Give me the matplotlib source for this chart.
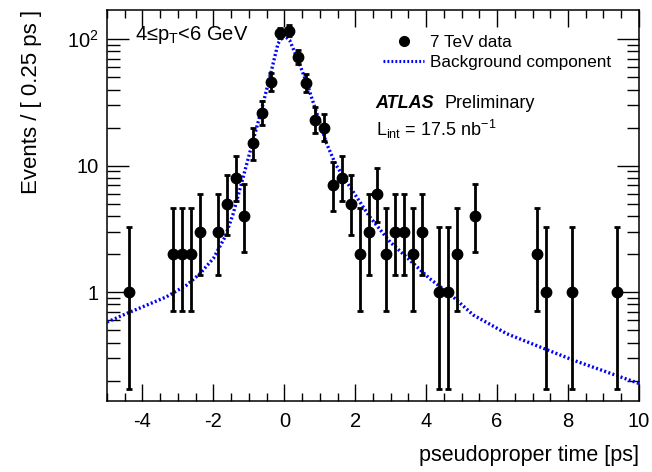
import numpy as np
import matplotlib
matplotlib.use("Agg")
import matplotlib.pyplot as plt
from matplotlib.ticker import MultipleLocator, LogLocator, NullFormatter, FixedFormatter, FixedLocator
from matplotlib.lines import Line2D

plt.rcParams['font.family'] = ['Liberation Sans', 'DejaVu Sans']
plt.rcParams['mathtext.fontset'] = 'custom'
plt.rcParams['mathtext.rm'] = 'Liberation Sans'
plt.rcParams['mathtext.it'] = 'Liberation Sans:italic'
plt.rcParams['mathtext.bf'] = 'Liberation Sans:bold'
plt.rcParams['axes.unicode_minus'] = False

# ---- data: 7 TeV events per 0.25 ps bin ----
t_bins = [-4.375, -3.125, -2.875, -2.625, -2.375, -1.875, -1.625, -1.375, -1.125,
          -0.875, -0.625, -0.375, -0.125, 0.125, 0.375, 0.625, 0.875, 1.125,
          1.375, 1.625, 1.875, 2.125, 2.375, 2.625, 2.875, 3.125, 3.375, 3.625,
          3.875, 4.375, 4.625, 4.875, 5.375, 7.125, 7.375, 8.125, 9.375]
counts = [1, 2, 2, 2, 3, 3, 5, 8, 4,
          15, 26, 46, 112, 117, 72, 45, 23, 20,
          7, 8, 5, 2, 3, 6, 2, 3, 3, 2,
          3, 1, 1, 2, 4, 2, 1, 1, 1]
# lower / upper edges of the error bars (Poisson intervals)
err_low_edge = [0.173, 0.708, 0.708, 0.708, 1.367, 1.367, 2.84, 5.23, 2.086,
                11.17, 20.94, 39.2, 101.4, 106.2, 63.5, 38.3, 18.24, 15.57,
                4.42, 5.23, 2.84, 0.708, 1.367, 3.62, 0.708, 1.367, 1.367, 0.708,
                1.367, 0.173, 0.173, 0.708, 2.086, 0.708, 0.173, 0.173, 0.173]
err_high_edge = [3.30, 4.64, 4.64, 4.64, 5.92, 5.92, 8.38, 11.95, 7.16,
                 19.95, 32.2, 53.8, 123.6, 128.8, 81.5, 52.75, 28.9, 25.5,
                 10.77, 11.95, 8.38, 4.64, 5.92, 9.58, 4.64, 5.92, 5.92, 4.64,
                 5.92, 3.30, 3.30, 4.64, 7.16, 4.64, 3.30, 3.30, 3.30]

# background component
bkg_t = [-5.0, -4.44, -3.88, -3.32, -2.75, -2.38, -2.0, -1.67, -1.45, -1.21, -0.93,
         -0.645, -0.36, -0.18, -0.03, 0.0, 0.15, 0.39, 0.67, 0.95, 1.19, 1.45, 1.85,
         2.41, 2.98, 3.54, 4.1, 4.7, 5.33, 6.27, 7.2, 8.15, 9.09, 10.0]
bkg_val = [0.58, 0.68, 0.79, 0.92, 1.14, 1.4, 1.85, 2.74, 4.1, 7.2, 14.1,
           27.5, 57, 92, 106, 107, 98, 68, 42, 24.3, 15, 10.2, 6.8,
           3.94, 2.5, 1.79, 1.28, 0.95, 0.66, 0.47, 0.37, 0.29, 0.234, 0.19]

y_ticks = [1, 10, 100]
y_tick_labels = ['1', '10', r'$10^2$']

fig = plt.figure(figsize=(6.52, 4.72), dpi=100)
ax = fig.add_axes([0.1641, 0.1504, 0.8159, 0.8284])

counts_a = np.array(counts, dtype=float)
yerr = [counts_a - np.array(err_low_edge), np.array(err_high_edge) - counts_a]

ax.plot(bkg_t, bkg_val, color='#0000ff', lw=2.4, linestyle=(0, (0.6, 0.7)), zorder=3)
ax.errorbar(t_bins, counts, yerr=yerr, fmt='o', color='black', ms=7.5,
            elinewidth=2, capsize=2.5, capthick=2, zorder=4)

ax.set_yscale('log')
ax.set_xlim(-5, 10)
ax.set_ylim(0.138, 170)

ax.xaxis.set_major_locator(MultipleLocator(2))
ax.xaxis.set_minor_locator(MultipleLocator(0.5))
ax.yaxis.set_major_locator(FixedLocator(y_ticks))
ax.yaxis.set_major_formatter(FixedFormatter(y_tick_labels))
ax.yaxis.set_minor_locator(LogLocator(base=10, subs=np.arange(2, 10)))
ax.yaxis.set_minor_formatter(NullFormatter())

ax.tick_params(which='both', direction='in', top=True, right=True, labelsize=14.5, width=1)
ax.tick_params(axis='y', which='major', length=16, pad=6)
ax.tick_params(axis='y', which='minor', length=9)
ax.tick_params(axis='x', which='major', length=12, pad=8)
ax.tick_params(axis='x', which='minor', length=6)
for s in ax.spines.values():
    s.set_linewidth(1.1)

ax.set_xlabel('pseudoproper time [ps]', fontsize=15.5, loc='right', labelpad=10)
ax.set_ylabel('Events / [ 0.25 ps ]', fontsize=16, loc='top', labelpad=18)

ax.text(0.053, 0.935, r'4≤p$_{\mathrm{T}}$<6 GeV', transform=ax.transAxes, fontsize=14.5,
        va='center', ha='left')

# legend in ROOT style
handles = [Line2D([], [], marker='o', color='black', ls='none', ms=7),
           Line2D([], [], color='#0000ff', lw=2.2, linestyle=(0, (0.6, 0.7)))]
leg = ax.legend(handles, ['7 TeV data', 'Background component'], loc='upper left',
                bbox_to_anchor=(0.49, 0.975), frameon=False, fontsize=12.3,
                handlelength=2.4, handletextpad=0.35, labelspacing=0.3)

ax.text(0.505, 0.76, 'ATLAS', transform=ax.transAxes, fontsize=13,
        fontweight='bold', fontstyle='italic', va='center')
ax.text(0.635, 0.76, 'Preliminary', transform=ax.transAxes, fontsize=13, va='center')
ax.text(0.505, 0.695, r'L$_{\mathrm{int}}$ = 17.5 nb$^{\mathrm{-1}}$', transform=ax.transAxes,
        fontsize=13, va='center')

fig.savefig('out.png', dpi=100)
